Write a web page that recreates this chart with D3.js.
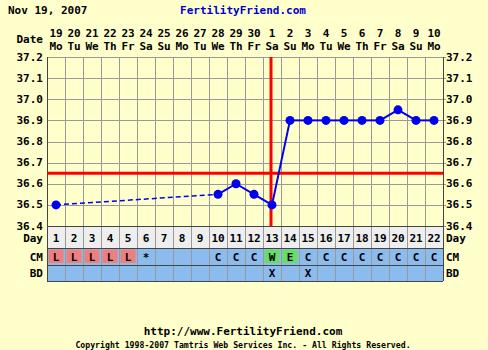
<!DOCTYPE html>
<html><head><meta charset="utf-8">
<script src="https://cdn.jsdelivr.net/npm/d3@7"></script>
<style>body{margin:0;background:#FFFFCC;}svg{display:block;}</style>
</head><body>
<script>
const cycleDays = d3.range(1, 23);
const dates = ["19","20","21","22","23","24","25","26","27","28","29","30","1","2","3","4","5","6","7","8","9","10"];
const weekdays = ["Mo","Tu","We","Th","Fr","Sa","Su","Mo","Tu","We","Th","Fr","Sa","Su","Mo","Tu","We","Th","Fr","Sa","Su","Mo"];
const temps = [36.5,null,null,null,null,null,null,null,null,36.55,36.6,36.55,36.5,36.9,36.9,36.9,36.9,36.9,36.9,36.95,36.9,36.9];
const cm = ["L","L","L","L","L","*","","","","C","C","C","W","E","C","C","C","C","C","C","C","C"];
const bd = ["","","","","","","","","","","","","X","","X","","","","","","",""];
const yTicks = [36.4,36.5,36.6,36.7,36.8,36.9,37.0,37.1,37.2];
const coverline = 36.65;
const ovulationDay = 13;
const title = "Nov 19, 2007";

const W = 488, H = 350;
const svg = d3.select("body").append("svg").attr("width", W).attr("height", H);
svg.append("rect").attr("width", W).attr("height", H).attr("fill", "#FFFFCC");
const font = "'DejaVu Sans Mono', monospace";

const L = 47, R = 443, T = 57, B = 226;
const x = d3.scaleBand().domain(cycleDays).range([L, R]);
const y = d3.scaleLinear().domain([36.4, 37.2]).range([B, T]);
const cx = d => x(d) + x.bandwidth() / 2;
const rowDayB = 248, rowCmB = 264.5, rowBdB = 281;

// rows backgrounds
svg.append("rect").attr("x", L).attr("y", B).attr("width", R - L).attr("height", rowDayB - B).attr("fill", "#EEEEEE");
svg.append("rect").attr("x", L).attr("y", rowDayB).attr("width", R - L).attr("height", rowBdB - rowDayB).attr("fill", "#8CBCEE");

// CM colored cells
const cmColor = {L: "#EE7F7F", W: "#66DD66", E: "#66DD66"};
svg.selectAll(".cmcell").data(cycleDays.filter((d, i) => cmColor[cm[i]])).enter().append("rect")
  .attr("x", d => x(d) + 1.5).attr("y", rowDayB + 1.5).attr("width", x.bandwidth() - 3).attr("height", rowCmB - rowDayB - 3)
  .attr("fill", d => cmColor[cm[d - 1]]);

// grid
const g = svg.append("g").attr("stroke", "#999").attr("stroke-width", 1);
cycleDays.slice(1).forEach(d => {
  g.append("line").attr("x1", Math.round(x(d)) + 0.5).attr("x2", Math.round(x(d)) + 0.5).attr("y1", T).attr("y2", rowBdB);
});
yTicks.forEach(t => {
  const yy = Math.round(y(t)) + 0.5;
  g.append("line").attr("x1", L).attr("x2", R + 3).attr("y1", yy).attr("y2", yy);
});
// row borders
const dk = svg.append("g").attr("stroke", "#444").attr("stroke-width", 1);
[B, rowDayB, rowCmB, rowBdB].forEach(v => dk.append("line").attr("x1", L).attr("x2", R).attr("y1", Math.round(v) + 0.5).attr("y2", Math.round(v) + 0.5));
dk.append("line").attr("x1", L + 0.5).attr("x2", L + 0.5).attr("y1", T).attr("y2", rowBdB);
dk.append("line").attr("x1", R + 0.5).attr("x2", R + 0.5).attr("y1", T).attr("y2", rowBdB);

// coverline & ovulation line
svg.append("line").attr("x1", L).attr("x2", R).attr("y1", y(coverline)).attr("y2", y(coverline)).attr("stroke", "#FF0000").attr("stroke-width", 3);
svg.append("line").attr("x1", cx(ovulationDay) - 1).attr("x2", cx(ovulationDay) - 1)
  .attr("y1", T).attr("y2", B).attr("stroke", "#FF0000").attr("stroke-width", 3);

// temperature lines
const pts = cycleDays.map((d, i) => ({d, t: temps[i]})).filter(p => p.t !== null);
for (let i = 0; i < pts.length - 1; i++) {
  const a = pts[i], b = pts[i + 1];
  const gap = b.d - a.d > 1;
  svg.append("line").attr("x1", cx(a.d)).attr("y1", y(a.t)).attr("x2", cx(b.d)).attr("y2", y(b.t))
    .attr("stroke", "#0000EE").attr("stroke-width", gap ? 1.5 : 2)
    .attr("stroke-dasharray", gap ? "5,3" : null);
}
svg.selectAll(".dot").data(pts).enter().append("circle")
  .attr("cx", p => cx(p.d)).attr("cy", p => y(p.t)).attr("r", 4.5).attr("fill", "#0000EE");

// texts
const txt = (s, xx, yy, anchor, opts = {}) => svg.append("text").attr("x", xx).attr("y", yy).attr("text-anchor", anchor)
  .attr("dominant-baseline", "central").attr("font-family", font).attr("font-weight", "bold")
  .attr("font-size", opts.size || 11).attr("fill", opts.fill || "#000").text(s);

txt(title, 8, 10, "start");
txt("FertilityFriend.com", 243, 10, "middle", {fill: "#0000CC"});
txt("Date", 43, 39, "end");
cycleDays.forEach((d, i) => {
  txt(dates[i], cx(d), 33, "middle");
  txt(weekdays[i], cx(d), 46, "middle");
  txt(String(d), cx(d), 238, "middle");
  if (cm[i]) txt(cm[i], cx(d), 257, "middle");
  if (bd[i]) txt(bd[i], cx(d), 273, "middle");
});
yTicks.forEach(t => {
  txt(t.toFixed(1), 43, y(t), "end");
  txt(t.toFixed(1), 446, y(t), "start");
});
[["Day", 238], ["CM", 257], ["BD", 273]].forEach(([s, yy]) => {
  txt(s, 43, yy, "end");
  txt(s, 446, yy, "start");
});
txt("http://www.FertilityFriend.com", 243, 331, "middle");
txt("Copyright 1998-2007 Tamtris Web Services Inc. - All Rights Reserved.", 243, 345, "middle", {size: 8.2});
</script>
</body></html>
